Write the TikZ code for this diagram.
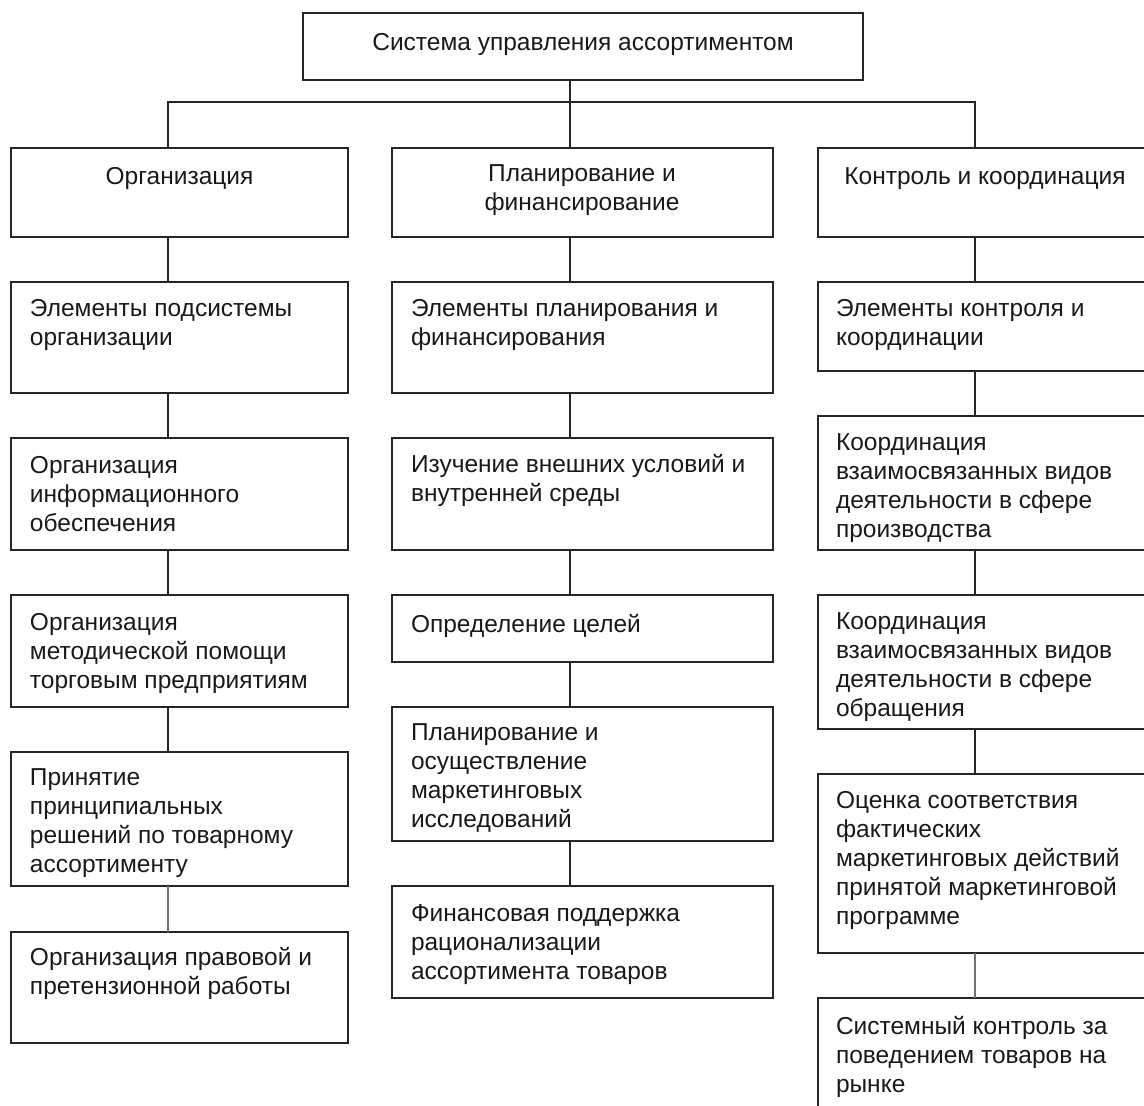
\documentclass[tikz,border=0pt]{standalone}
\usepackage{fontspec}
\setmainfont{Liberation Sans}
\tikzset{
  boxst/.style={draw=black!85, line width=1.4pt, inner sep=0pt, outer sep=0pt, anchor=north west},
  txtl/.style={inner sep=0pt, outer sep=0pt, align=left, anchor=base west, yshift=-2.5pt, font=\fontsize{24.5}{29}\selectfont, text=black!90},
  txtc/.style={inner sep=0pt, outer sep=0pt, align=center, anchor=base, yshift=-2.5pt, font=\fontsize{24.5}{29}\selectfont, text=black!90},
  conn/.style={draw=black!85, line width=1.4pt},
  connl/.style={draw=black!55, line width=1.4pt}
}
\begin{document}
\begin{tikzpicture}[x=1pt,y=-1pt]
\useasboundingbox (0,0) rectangle (1144,1106);
\clip (0,0) rectangle (1144,1106);
% top
\node[boxst, minimum width=560, minimum height=67] (top) at (303,13) {};
\node[txtc] (ttop) at (583,47.5) {Система управления ассортиментом};
% column 1
\node[boxst, minimum width=337, minimum height=89] (c1a) at (11,148) {};
\node[txtc] (t1a) at (179.5,181.5) {Организация};
\node[boxst, minimum width=337, minimum height=111] (c1b) at (11,282) {};
\node[txtl] (t1b) at (30,342.5) {Элементы подсистемы\\организации};
\node[boxst, minimum width=337, minimum height=112] (c1c) at (11,438) {};
\node[txtl] (t1c) at (30,528.5) {Организация\\информационного\\обеспечения};
\node[boxst, minimum width=337, minimum height=112] (c1d) at (11,595) {};
\node[txtl] (t1d) at (30,685.5) {Организация\\методической помощи\\торговым предприятиям};
\node[boxst, minimum width=337, minimum height=134] (c1e) at (11,752) {};
\node[txtl] (t1e) at (30,869.5) {Принятие\\принципиальных\\решений по товарному\\ассортименту};
\node[boxst, minimum width=337, minimum height=111] (c1f) at (11,932) {};
\node[txtl] (t1f) at (30,991.5) {Организация правовой и\\претензионной работы};
% column 2
\node[boxst, minimum width=381, minimum height=89] (c2a) at (392,148) {};
\node[txtc] (t2a) at (582,207.5) {Планирование и\\финансирование};
\node[boxst, minimum width=381, minimum height=111] (c2b) at (392,282) {};
\node[txtl] (t2b) at (411,342.5) {Элементы планирования и\\финансирования};
\node[boxst, minimum width=381, minimum height=112] (c2c) at (392,438) {};
\node[txtl] (t2c) at (411,498.5) {Изучение внешних условий и\\внутренней среды};
\node[boxst, minimum width=381, minimum height=67] (c2d) at (392,595) {};
\node[txtl] (t2d) at (411,629.5) {Определение целей};
\node[boxst, minimum width=381, minimum height=134] (c2e) at (392,707) {};
\node[txtl] (t2e) at (411,824.5) {Планирование и\\осуществление\\маркетинговых\\исследований};
\node[boxst, minimum width=381, minimum height=112] (c2f) at (392,886) {};
\node[txtl] (t2f) at (411,976.5) {Финансовая поддержка\\рационализации\\ассортимента товаров};
% column 3
\node[boxst, minimum width=334, minimum height=89] (c3a) at (818,148) {};
\node[txtc] (t3a) at (985,181.5) {Контроль и координация};
\node[boxst, minimum width=334, minimum height=89] (c3b) at (818,282) {};
\node[txtl] (t3b) at (836,342.5) {Элементы контроля и\\координации};
\node[boxst, minimum width=334, minimum height=134] (c3c) at (818,416) {};
\node[txtl] (t3c) at (836,534.5) {Координация\\взаимосвязанных видов\\деятельности в сфере\\производства};
\node[boxst, minimum width=334, minimum height=134] (c3d) at (818,595) {};
\node[txtl] (t3d) at (836,713.5) {Координация\\взаимосвязанных видов\\деятельности в сфере\\обращения};
\node[boxst, minimum width=334, minimum height=179] (c3e) at (818,774) {};
\node[txtl] (t3e) at (836,921.5) {Оценка соответствия\\фактических\\маркетинговых действий\\принятой маркетинговой\\программе};
\node[boxst, minimum width=334, minimum height=140] (c3f) at (818,998) {};
\node[txtl] (t3f) at (836,1089.5) {Системный контроль за\\поведением товаров на\\рынке};
% tree connectors
\coordinate (bar) at (570,102);
\draw[conn] ([xshift=-13]top.south) -- (bar);
\draw[conn] ([xshift=-11.5]c1a.north) |- (bar) -| ([xshift=-10]c3a.north);
\draw[conn] (bar) -- ([xshift=-12.5]c2a.north);
% column connectors
\draw[conn] ([xshift=-11.5]c1a.south) -- ([xshift=-11.5]c1b.north);
\draw[conn] ([xshift=-11.5]c1b.south) -- ([xshift=-11.5]c1c.north);
\draw[conn] ([xshift=-11.5]c1c.south) -- ([xshift=-11.5]c1d.north);
\draw[conn] ([xshift=-11.5]c1d.south) -- ([xshift=-11.5]c1e.north);
\draw[connl] ([xshift=-11.5]c1e.south) -- ([xshift=-11.5]c1f.north);
\draw[conn] ([xshift=-12.5]c2a.south) -- ([xshift=-12.5]c2b.north);
\draw[conn] ([xshift=-12.5]c2b.south) -- ([xshift=-12.5]c2c.north);
\draw[conn] ([xshift=-12.5]c2c.south) -- ([xshift=-12.5]c2d.north);
\draw[conn] ([xshift=-12.5]c2d.south) -- ([xshift=-12.5]c2e.north);
\draw[conn] ([xshift=-12.5]c2e.south) -- ([xshift=-12.5]c2f.north);
\draw[conn] ([xshift=-10]c3a.south) -- ([xshift=-10]c3b.north);
\draw[conn] ([xshift=-10]c3b.south) -- ([xshift=-10]c3c.north);
\draw[conn] ([xshift=-10]c3c.south) -- ([xshift=-10]c3d.north);
\draw[conn] ([xshift=-10]c3d.south) -- ([xshift=-10]c3e.north);
\draw[connl] ([xshift=-10]c3e.south) -- ([xshift=-10]c3f.north);
\end{tikzpicture}
\end{document}
